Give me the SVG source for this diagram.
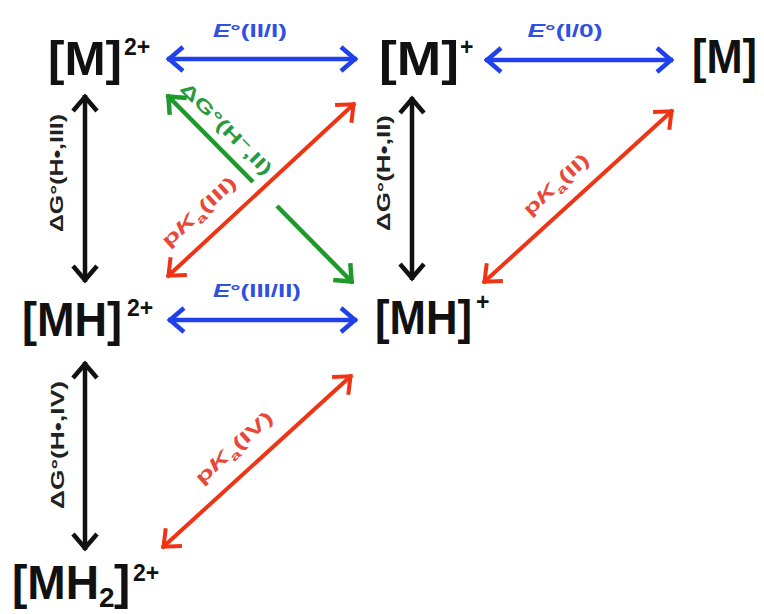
<svg xmlns="http://www.w3.org/2000/svg" width="764" height="614" viewBox="0 0 764 614">
<style>
.node{font-family:"Liberation Sans",Arial,sans-serif;font-weight:bold;fill:#111;font-size:49px;}
.sup{font-size:23px;}
.lbl{font-family:"Liberation Sans",Arial,sans-serif;font-weight:bold;font-size:18px;text-anchor:middle;}
.blue{fill:#3050e0;}
.black{fill:#222;}
.green{fill:#2a9a3e;}
.red{fill:#e8483a;}
.ln{fill:none;stroke-width:4.5;}
.lb{stroke:#2040ec;}
.lk{stroke:#111;}
.lg{stroke:#1e9a2c;}
.lr{stroke:#ee3414;stroke-width:4;}
</style>
<defs>
<marker id="mb" markerUnits="userSpaceOnUse" markerWidth="40" markerHeight="40" viewBox="-20 -20 40 40" refX="0" refY="0" orient="auto-start-reverse" overflow="visible"><path d="M-16,-12 L-2,0 L-16,12" fill="none" stroke="#2040ec" stroke-width="4.5"/></marker>
<marker id="mk" markerUnits="userSpaceOnUse" markerWidth="40" markerHeight="40" viewBox="-20 -20 40 40" refX="0" refY="0" orient="auto-start-reverse" overflow="visible"><path d="M-16,-12 L-2,0 L-16,12" fill="none" stroke="#111" stroke-width="4.5"/></marker>
<marker id="mg" markerUnits="userSpaceOnUse" markerWidth="40" markerHeight="40" viewBox="-20 -20 40 40" refX="0" refY="0" orient="auto-start-reverse" overflow="visible"><path d="M-16,-12 L-2,0 L-16,12" fill="none" stroke="#1e9a2c" stroke-width="4.5"/></marker>
<marker id="mr" markerUnits="userSpaceOnUse" markerWidth="40" markerHeight="40" viewBox="-20 -20 40 40" refX="0" refY="0" orient="auto-start-reverse" overflow="visible"><path d="M-16,-12 L-2,0 L-16,12" fill="none" stroke="#ee3414" stroke-width="4"/></marker>
</defs>
<rect width="764" height="614" fill="#fff"/>

<g id="connectors">
  <line class="ln lb" x1="167" y1="59" x2="357" y2="59" marker-start="url(#mb)" marker-end="url(#mb)"/>
  <line class="ln lb" x1="485" y1="60" x2="673" y2="60" marker-start="url(#mb)" marker-end="url(#mb)"/>
  <line class="ln lb" x1="168" y1="320" x2="357" y2="320" marker-start="url(#mb)" marker-end="url(#mb)"/>
  <line class="ln lk" x1="85" y1="95" x2="85" y2="282" marker-start="url(#mk)" marker-end="url(#mk)"/>
  <line class="ln lk" x1="412" y1="97" x2="412" y2="280" marker-start="url(#mk)" marker-end="url(#mk)"/>
  <line class="ln lk" x1="85" y1="362" x2="85" y2="550" marker-start="url(#mk)" marker-end="url(#mk)"/>
  <line class="ln lg" x1="253" y1="182" x2="167" y2="95" marker-end="url(#mg)"/>
  <line class="ln lg" x1="277" y1="206" x2="353" y2="283" marker-end="url(#mg)"/>
  <line class="ln lr" x1="167" y1="277" x2="355" y2="103" marker-start="url(#mr)" marker-end="url(#mr)"/>
  <line class="ln lr" x1="483" y1="283" x2="673" y2="110" marker-start="url(#mr)" marker-end="url(#mr)"/>
  <line class="ln lr" x1="162" y1="548" x2="352" y2="375" marker-start="url(#mr)" marker-end="url(#mr)"/>

  <text class="lbl blue" x="250" y="37" textLength="74" lengthAdjust="spacingAndGlyphs"><tspan font-style="italic">E</tspan>°(II/I)</text>
  <text class="lbl blue" x="565" y="37" textLength="75" lengthAdjust="spacingAndGlyphs"><tspan font-style="italic">E</tspan>°(I/0)</text>
  <text class="lbl blue" x="257" y="297" textLength="88" lengthAdjust="spacingAndGlyphs"><tspan font-style="italic">E</tspan>°(III/II)</text>
  <text class="lbl black" transform="translate(63,173) rotate(-90)" textLength="118" lengthAdjust="spacingAndGlyphs">ΔG°(H•,III)</text>
  <text class="lbl black" transform="translate(390,173) rotate(-90)" textLength="116" lengthAdjust="spacingAndGlyphs">ΔG°(H•,II)</text>
  <text class="lbl black" transform="translate(64,445) rotate(-90)" textLength="128" lengthAdjust="spacingAndGlyphs">ΔG°(H•,IV)</text>
  <text class="lbl green" transform="translate(222,133) rotate(45.3)" textLength="122" lengthAdjust="spacingAndGlyphs">ΔG°(H<tspan dy="-6" font-size="13">−</tspan><tspan dy="6">,II)</tspan></text>
  <text class="lbl red" transform="translate(203,216) rotate(-42.5)" textLength="94" lengthAdjust="spacingAndGlyphs">p<tspan font-style="italic">K</tspan><tspan dy="5" font-size="12">a</tspan><tspan dy="-5">(III)</tspan></text>
  <text class="lbl red" transform="translate(560,189) rotate(-42.3)" textLength="82" lengthAdjust="spacingAndGlyphs">p<tspan font-style="italic">K</tspan><tspan dy="5" font-size="12">a</tspan><tspan dy="-5">(II)</tspan></text>
  <text class="lbl red" transform="translate(238,452) rotate(-42.3)" textLength="98" lengthAdjust="spacingAndGlyphs">p<tspan font-style="italic">K</tspan><tspan dy="5" font-size="12">a</tspan><tspan dy="-5">(IV)</tspan></text>
</g>

<g id="M2plus">
  <text class="node"><tspan x="48" y="75" textLength="74" lengthAdjust="spacingAndGlyphs">[M]</tspan><tspan class="sup" x="124" y="55">2+</tspan></text>
</g>
<g id="Mplus">
  <text class="node"><tspan x="379" y="75" textLength="80" lengthAdjust="spacingAndGlyphs">[M]</tspan><tspan class="sup" x="460" y="55">+</tspan></text>
</g>
<g id="M">
  <text class="node" x="692" y="73" textLength="65" lengthAdjust="spacingAndGlyphs">[M]</text>
</g>
<g id="MH2plus">
  <text class="node"><tspan x="22" y="336" textLength="100" lengthAdjust="spacingAndGlyphs">[MH]</tspan><tspan class="sup" x="127" y="316">2+</tspan></text>
</g>
<g id="MHplus">
  <text class="node"><tspan x="375" y="334" textLength="97" lengthAdjust="spacingAndGlyphs">[MH]</tspan><tspan class="sup" x="476" y="310">+</tspan></text>
</g>
<g id="MH2_2plus">
  <text class="node"><tspan x="12" y="599" textLength="87" lengthAdjust="spacingAndGlyphs">[MH</tspan><tspan x="99" y="607" font-size="28">2</tspan><tspan x="114" y="599">]</tspan><tspan class="sup" x="133" y="581">2+</tspan></text>
</g>
</svg>
